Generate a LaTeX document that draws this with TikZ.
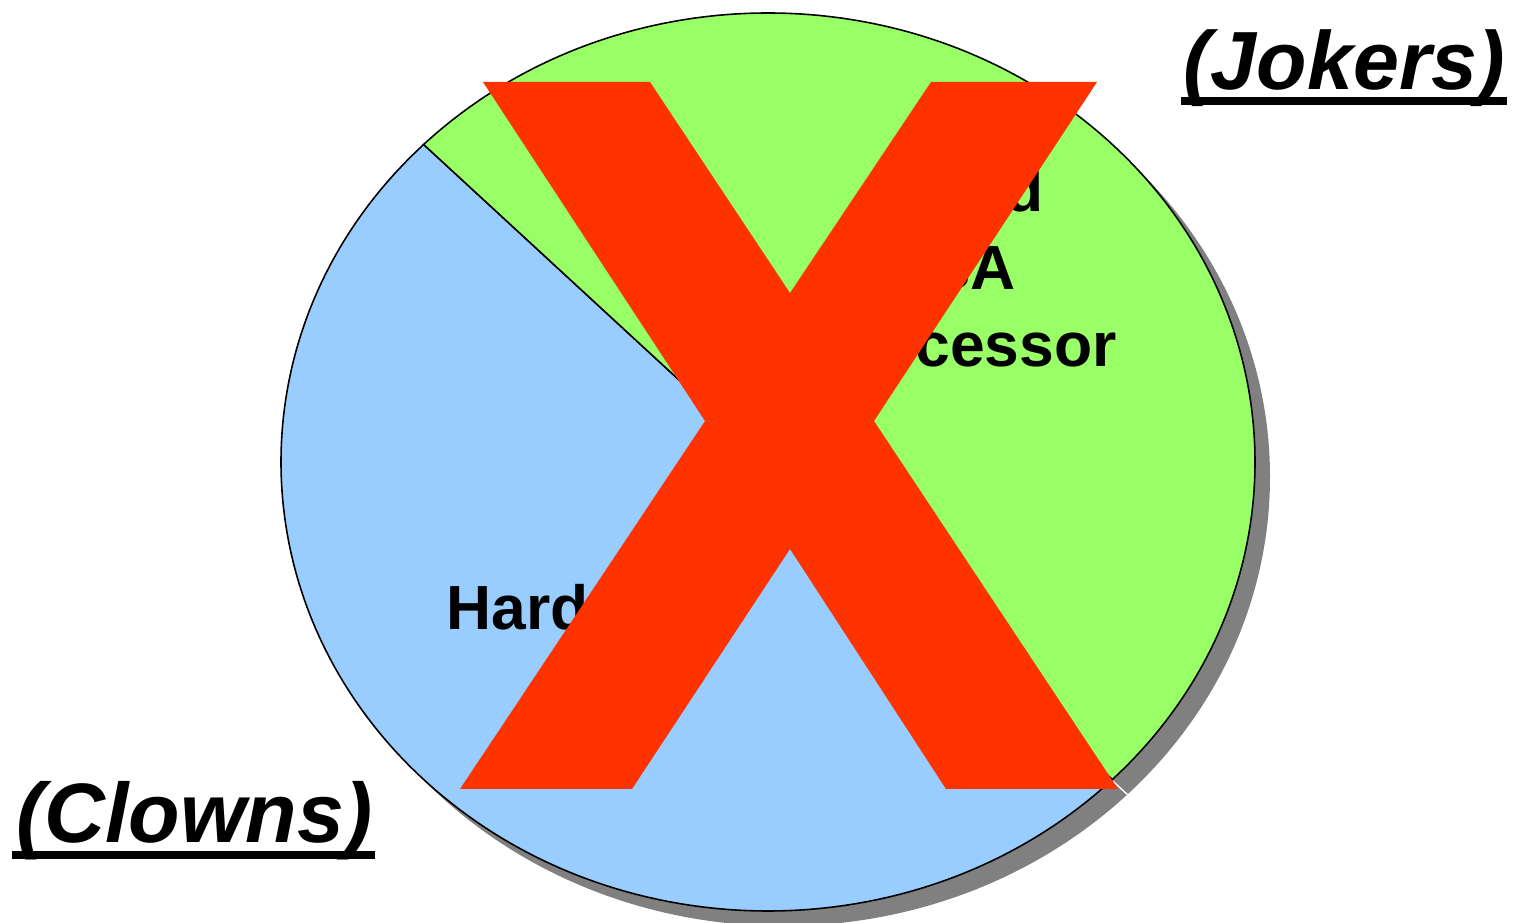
\documentclass[tikz,border=0pt]{standalone}
\usepackage{fontspec}
\setmainfont{Liberation Sans}
\usepackage{tikz}
\usetikzlibrary{calc}
\definecolor{PieGreen}{HTML}{99FF66}
\definecolor{PieBlue}{HTML}{99CCFF}
\definecolor{CrossRed}{HTML}{FF3300}
\definecolor{ShadowGray}{HTML}{808080}

\begin{document}
\begin{tikzpicture}[x=0.02cm, y=0.02cm,
            slice/.style={draw=black, line width=0.9pt},
            lbl/.style={font=\fontsize{35.5}{42}\selectfont\bfseries, inner sep=0pt},
            tag/.style={font=\fontsize{47}{54}\selectfont\bfseries\itshape, inner sep=0pt},
            uline/.style={line width=4.5pt}
          ]
          \useasboundingbox (0,0) rectangle (1522,923);
          \coordinate (c) at (768,461);
          \coordinate (cs) at (783,446);

          % shadow
          \fill[ShadowGray] (cs) ellipse [x radius=487, y radius=449];
          \draw[white, line width=0.8pt] (cs) -- ($(cs)+(-45:487 and 449)$);

          % pie slices
          \filldraw[slice, fill=PieBlue] (c) -- ($(c)+(135:487 and 449)$)
                arc[start angle=135, end angle=315, x radius=487, y radius=449] -- cycle;
          \filldraw[slice, fill=PieGreen] (c) -- ($(c)+(-45:487 and 449)$)
                arc[start angle=-45, end angle=135, x radius=487, y radius=449] -- cycle;

          % slice labels
          \node[lbl, anchor=base west] (hard) at (446,293) {Hard};
          \node[lbl, anchor=base east] (soft1) at (1044,711) {d};
          \node[lbl, anchor=base east] (soft2) at (1016,633) {SA};
          \node[lbl, anchor=base east] (soft3) at (1117,556) {cessor};

          % big cross
          \fill[CrossRed] (483,841) -- (650,841) -- (790,630) -- (931,841) -- (1097,841)
                -- (874,502) -- (1118,134) -- (946,134) -- (790,374) -- (632,134)
                -- (460,134) -- (705,502) -- cycle;

          % side tags
          \node[tag, anchor=base west] (jokers) at (1183,833) {(Jokers)};
          \draw[uline] ([xshift=-0.05cm, yshift=-0.22cm]jokers.base west)
                -- ([xshift=0.05cm, yshift=-0.22cm]jokers.base east);
          \node[tag, font=\fontsize{48}{55}\selectfont\bfseries\itshape, anchor=base west]
                (clowns) at (16,80) {(Clowns)};
          \draw[uline] ([xshift=-0.08cm, yshift=-0.24cm]clowns.base west)
                -- ([xshift=0.05cm, yshift=-0.24cm]clowns.base east);
        \end{tikzpicture}
\end{document}
